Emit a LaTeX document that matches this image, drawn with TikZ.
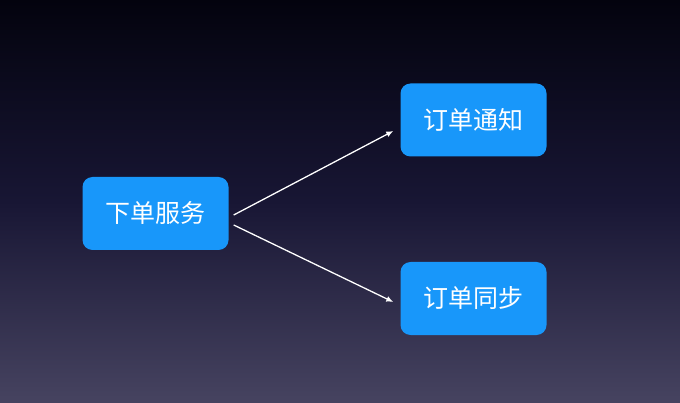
\documentclass[tikz,border=0pt]{standalone}
\usepackage{fontspec}
\newfontfamily\cjk{Noto Sans CJK SC}
\usetikzlibrary{arrows.meta,calc}
\definecolor{bgtop}{RGB}{3,3,14}
\definecolor{bgmid}{RGB}{24,22,52}
\definecolor{bgbot}{RGB}{70,67,96}
\definecolor{boxblue}{RGB}{24,151,250}
\tikzset{
  svc/.style={fill=boxblue, rounded corners=10pt, minimum width=146pt, minimum height=73pt,
    inner sep=0pt, text=white, font=\cjk\fontsize{25}{25}\selectfont},
  flow/.style={draw=white, line width=1.3pt, -{Latex[length=7pt,width=6pt]}}
}
\begin{document}
\begin{tikzpicture}[x=1pt,y=1pt]
  \shade[top color=bgtop, bottom color=bgbot, middle color=bgmid] (0,0) rectangle (680,402);
  \useasboundingbox (0,0) rectangle (680,402);
  \node[svc] (order) at (155.5,188.5) {下单服务};
  \node[svc] (notify) at (473.5,282) {订单通知};
  \node[svc] (sync) at (473.5,103.5) {订单同步};
  \coordinate (s1) at ($(order.east)+(5,-1.5)$);
  \coordinate (s2) at ($(order.east)+(5,-11.5)$);
  \coordinate (e1) at ($(notify.west)+(-7,-11)$);
  \coordinate (e2) at ($(sync.west)+(-7,-3.5)$);
  \draw[flow] (s1) -- (e1);
  \draw[flow] (s2) -- (e2);
\end{tikzpicture}
\end{document}
